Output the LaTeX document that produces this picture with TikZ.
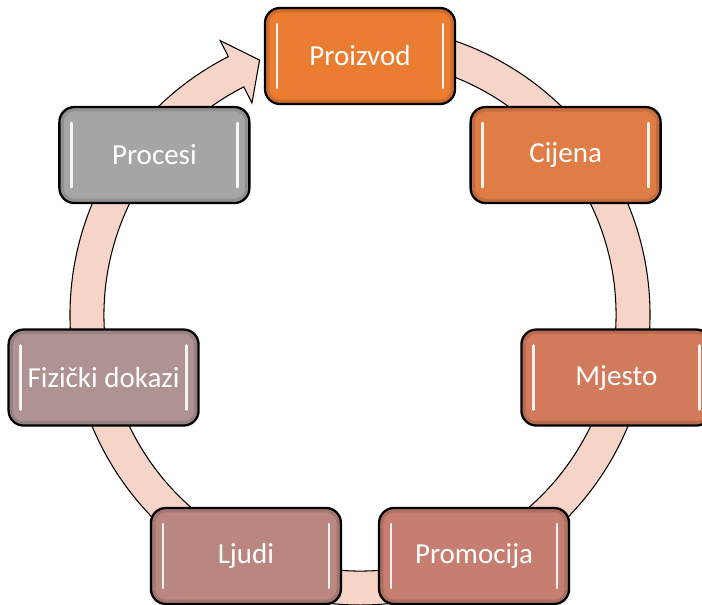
\documentclass[tikz,border=0pt]{standalone}
\usepackage{fontspec}
\setmainfont{Carlito}
\usepackage{xcolor}
\usetikzlibrary{arrows.meta,positioning,calc}
\definecolor{ringfill}{RGB}{247,212,200}
\definecolor{proizvodc}{RGB}{235,125,50}
\definecolor{cijenac}{RGB}{224,124,70}
\definecolor{mjestoc}{RGB}{210,122,92}
\definecolor{promocijac}{RGB}{197,126,112}
\definecolor{ljudic}{RGB}{185,134,128}
\definecolor{dokazic}{RGB}{174,147,146}
\definecolor{procesic}{RGB}{165,165,165}

\begin{document}
\begin{tikzpicture}[
    every node/.style={font=\fontsize{16.5}{19}\selectfont},
    box/.style={draw=black, line width=1.3pt, rounded corners=0.3cm,
        minimum width=3.8cm, minimum height=1.92cm, text=white,
        path picture={
            \draw[black, opacity=0.12, line width=5pt, rounded corners=0.3cm]
                (path picture bounding box.south west) rectangle (path picture bounding box.north east);
            \draw[white, opacity=0.9, line width=1.6pt, line cap=round]
                ([xshift=0.24cm,yshift=-0.32cm]path picture bounding box.north west)
                -- ([xshift=0.24cm,yshift=0.32cm]path picture bounding box.south west)
                ([xshift=-0.24cm,yshift=-0.32cm]path picture bounding box.north east)
                -- ([xshift=-0.24cm,yshift=0.32cm]path picture bounding box.south east);
        }},
]

% Canvas
\useasboundingbox (-7.2,-5.70) rectangle (6.84,6.38);

% Cycle arrow (behind the boxes)
\begin{scope}[yshift=0.08cm]
\filldraw[fill=ringfill, draw=black, line width=0.6pt]
    (85:5.80) arc[start angle=85, end angle=-243, radius=5.80]
    -- (-243:6.16) -- (-248.5:5.48) -- (-243:4.76) -- (-243:5.12)
    arc[start angle=-243, end angle=85, radius=5.12] -- cycle;
\end{scope}

% Seven elements of the marketing mix
\node[box, fill=proizvodc] (proizvod) at (90:5.26) {Proizvod};
\node[box, fill=cijenac] (cijena) at (38.57:5.26) {Cijena};
\node[box, fill=mjestoc] (mjesto) at (-12.86:5.26) {Mjesto};
\node[box, fill=promocijac] (promocija) at (-64.29:5.26) {Promocija};
\node[box, fill=ljudic] (ljudi) at (-115.71:5.26) {Ljudi};
\node[box, fill=dokazic] (dokazi) at (-167.14:5.26) {Fizički dokazi};
\node[box, fill=procesic] (procesi) at (141.43:5.26) {Procesi};

\end{tikzpicture}
\end{document}
